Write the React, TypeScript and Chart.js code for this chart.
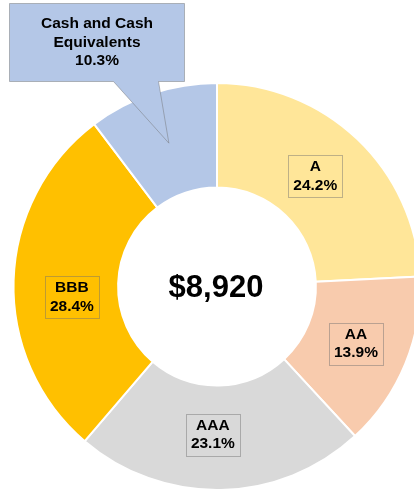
import React, { useEffect, useRef } from "react";
import { Chart, registerables } from "chart.js";

Chart.register(...registerables);

const categories = ["A", "AA", "AAA", "BBB", "Cash and Cash Equivalents"];
const labelLines = [["A"], ["AA"], ["AAA"], ["BBB"], ["Cash and Cash", "Equivalents"]];
const shares = [24.2, 13.9, 23.1, 28.4, 10.3];
const colors = ["#FFE699", "#F8CBAD", "#D9D9D9", "#FFC000", "#B4C7E7"];
const totalLabel = "$8,920";

// layout-only nudges for label boxes (dx, dy) relative to slice centre
const labelNudges = [
  [-6, -1],
  [-1, 0],
  [-7, -3],
  [6, 15],
  [0, 0],
];
const calloutIndex = 4;

const FONT = "bold 15.5px 'Liberation Sans', Arial, sans-serif";
const LINE_H = 18.5;
const BOX_BORDER = "rgba(110,110,110,0.45)";

const labelPlugin = {
  id: "sliceLabels",
  afterDatasetsDraw(chart: any) {
    const ctx: CanvasRenderingContext2D = chart.ctx;
    const meta = chart.getDatasetMeta(0);
    const ds = chart.data.datasets[0];
    ctx.save();
    ctx.font = FONT;
    ctx.textAlign = "center";
    ctx.textBaseline = "middle";
    ctx.lineWidth = 1;
    meta.data.forEach((arc: any, i: number) => {
      const p = arc.tooltipPosition();
      const lines = [...labelLines[i], (ds.data[i] as number).toFixed(1) + "%"];
      if (i === calloutIndex) {
        const tipX = p.x;
        const tipY = p.y;
        const left = Math.round(tipX - 160) + 0.5;
        const top = Math.round(tipY - 140) + 0.5;
        const w = 175;
        const h = 78;
        ctx.beginPath();
        ctx.moveTo(left, top);
        ctx.lineTo(left + w, top);
        ctx.lineTo(left + w, top + h);
        ctx.lineTo(left + 149, top + h);
        ctx.lineTo(tipX, tipY);
        ctx.lineTo(left + 104, top + h);
        ctx.lineTo(left, top + h);
        ctx.closePath();
        ctx.fillStyle = colors[i];
        ctx.fill();
        ctx.strokeStyle = BOX_BORDER;
        ctx.stroke();
        ctx.fillStyle = "#000";
        const cx = left + w / 2;
        const cy = top + h / 2;
        lines.forEach((t, k) => {
          ctx.fillText(t, cx, cy + (k - (lines.length - 1) / 2) * LINE_H);
        });
        return;
      }
      const cx = p.x + labelNudges[i][0];
      const cy = p.y + labelNudges[i][1];
      const tw = Math.max(...lines.map((t) => ctx.measureText(t).width));
      const bw = Math.round(tw + 10);
      const bh = Math.round(lines.length * LINE_H + 5);
      const bx = Math.round(cx - bw / 2) + 0.5;
      const by = Math.round(cy - bh / 2) + 0.5;
      ctx.strokeStyle = BOX_BORDER;
      ctx.strokeRect(bx, by, bw, bh);
      ctx.fillStyle = "#000";
      lines.forEach((t, k) => {
        ctx.fillText(t, cx, cy + (k - (lines.length - 1) / 2) * LINE_H);
      });
    });
    const c = meta.data[0];
    ctx.font = "bold 31px 'Liberation Sans', Arial, sans-serif";
    ctx.textBaseline = "alphabetic";
    ctx.fillText(totalLabel, c.x - 1, c.y + 10);
    ctx.restore();
  },
};

export default function App() {
  const ref = useRef<HTMLCanvasElement>(null);
  useEffect(() => {
    if (!ref.current) return;
    const chart = new Chart(ref.current, {
      type: "doughnut",
      data: {
        labels: categories,
        datasets: [
          {
            data: shares,
            backgroundColor: colors,
            borderColor: "#FFFFFF",
            borderWidth: 2,
          },
        ],
      },
      options: {
        animation: false,
        responsive: true,
        maintainAspectRatio: false,
        radius: 203.5,
        cutout: "48.6%",
        layout: { padding: 0 },
        plugins: {
          legend: { display: false },
          tooltip: { enabled: false },
        },
      },
      plugins: [labelPlugin],
    } as any);
    return () => chart.destroy();
  }, []);
  return (
    <div
      style={{
        position: "fixed",
        left: 0,
        top: 0,
        width: 414,
        height: 492,
        overflow: "hidden",
        background: "#fff",
      }}
    >
      <div style={{ position: "absolute", left: 0, top: 0, width: 434, height: 573 }}>
        <canvas ref={ref} />
      </div>
    </div>
  );
}
